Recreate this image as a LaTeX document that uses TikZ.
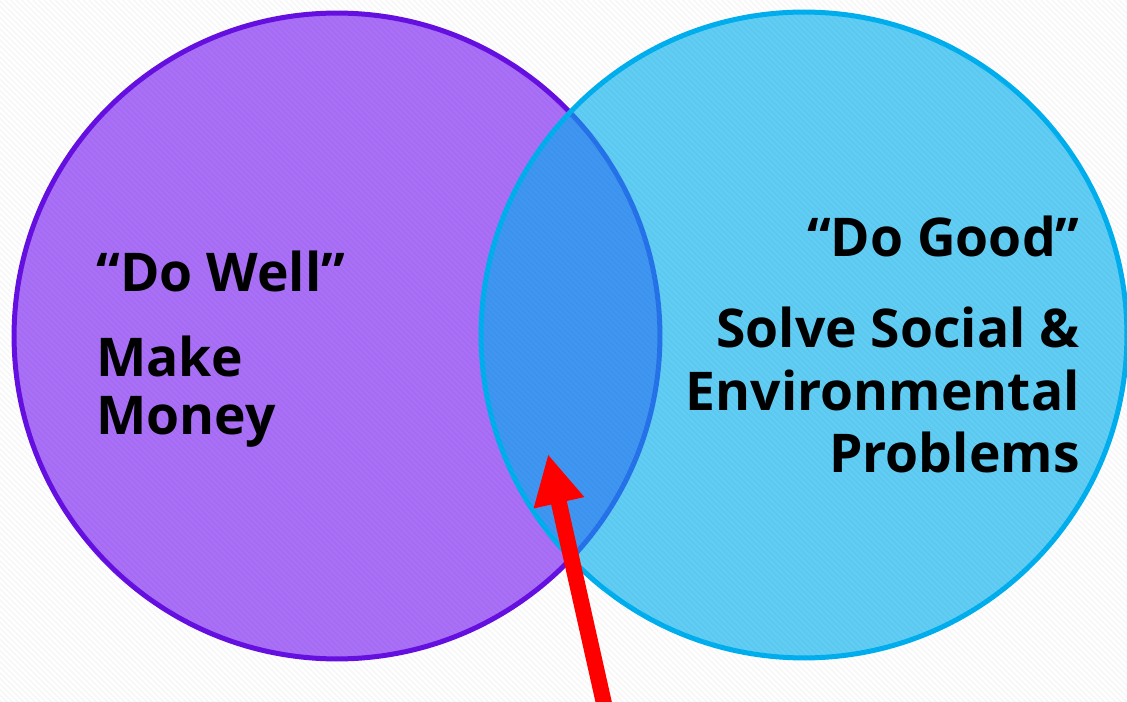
\documentclass[tikz,border=0pt]{standalone}
\usepackage{fontspec}
\setmainfont{Open Sans}
\usetikzlibrary{arrows.meta}

\definecolor{wellfill}{RGB}{170,112,248}
\definecolor{wellline}{RGB}{102,16,228}
\definecolor{goodcyan}{RGB}{0,176,240}
\definecolor{pointer}{RGB}{255,0,0}

\begin{document}
\begin{tikzpicture}[x=0.02cm,y=-0.02cm,
  ring/.style={line width=0.1cm},
  txt/.style={inner sep=0pt, text=black,
    font=\fontsize{30.4}{34}\selectfont\bfseries},
  pointerarrow/.style={draw=pointer, line width=0.32cm,
    -{Triangle[length=1cm,width=0.96cm]}}]

\useasboundingbox (0,0) rectangle (1127,702);
\fill[white] (0,0) rectangle (1127,702);

% the two sets
\fill[wellfill] (337,336) circle[radius=6.46cm];
\draw[ring, wellline] (337,336) circle[radius=6.46cm];
\fill[goodcyan, fill opacity=0.62] (804,335) circle[radius=6.46cm];
\draw[ring, goodcyan] (804,335) circle[radius=6.46cm];

% faint diagonal texture
\begin{scope}
  \clip (0,0) rectangle (1127,702);
  \foreach \c in {-712,-706.4,...,1130}
    \draw[black, opacity=0.03, line width=0.035cm] (\c,0) -- ++(712,712);
\end{scope}

% pointer into the overlap
\coordinate (tail) at (605,708);
\coordinate (tip) at (548,454);
\draw[pointerarrow] (tail) -- (tip);

% left set
\node[txt, anchor=base west] (dowell) at (96,292) {“Do Well”};
\node[txt, anchor=base west] (make) at (96,377) {Make};
\node[txt, anchor=base west] (money) at (96,435) {Money};

% right set
\node[txt, anchor=base east] (dogood) at (1080,257) {“Do Good”};
\node[txt, anchor=base east] (solve) at (1080,348) {Solve Social \&};
\node[txt, anchor=base east] (env) at (1080,411) {Environmental};
\node[txt, anchor=base east] (probs) at (1080,473) {Problems};

\end{tikzpicture}
\end{document}
